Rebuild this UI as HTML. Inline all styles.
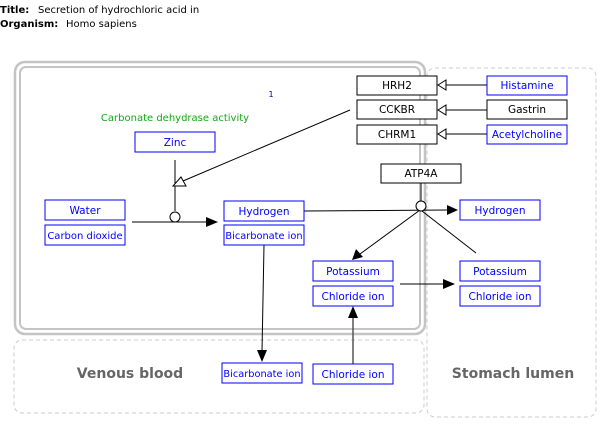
<!DOCTYPE html>
<html><head><meta charset="utf-8"><style>
html,body{margin:0;padding:0;background:#fff;}
svg{display:block;font-family:"DejaVu Sans","Liberation Sans",sans-serif;}
.b{fill:#fff;stroke:#00f;stroke-width:1;}
.k{fill:#fff;stroke:#000;stroke-width:1;}
.tb{fill:#00f;font-size:10.5px;text-anchor:middle;}
.tk{fill:#000;font-size:10.5px;text-anchor:middle;}
.l{stroke:#000;stroke-width:1;fill:none;}
</style></head><body>
<svg width="609" height="432" viewBox="0 0 609 432" xmlns="http://www.w3.org/2000/svg">
<text x="0" y="13" style="font-size:10px" font-weight="bold">Title:</text>
<text x="38" y="13" style="font-size:10px">Secretion of hydrochloric acid in</text>
<text x="0" y="27" style="font-size:10px" font-weight="bold">Organism:</text>
<text x="66" y="27" style="font-size:10px">Homo sapiens</text>

<rect x="14" y="340" width="410" height="73" rx="8" fill="none" stroke="#ccc" stroke-dasharray="4,3"/>
<rect x="427" y="68" width="169" height="349" rx="8" fill="none" stroke="#ccc" stroke-dasharray="4,3"/>
<rect x="15" y="62" width="410" height="272" rx="10" fill="none" stroke="#c4c4c4" stroke-width="2.5"/>
<rect x="20" y="67" width="400" height="262" rx="6" fill="none" stroke="#c4c4c4" stroke-width="2"/>

<text x="130" y="378" style="font-size:14px" font-weight="bold" fill="#666" text-anchor="middle">Venous blood</text>
<text x="513" y="378" style="font-size:14px" font-weight="bold" fill="#666" text-anchor="middle">Stomach lumen</text>
<text x="175" y="121" style="font-size:10px" fill="#1a1" text-anchor="middle">Carbonate dehydrase activity</text>
<text x="271" y="97" style="font-size:8px" fill="#00a" text-anchor="middle">1</text>

<line class="l" x1="487" y1="85" x2="446" y2="85"/>
<line class="l" x1="487" y1="110" x2="446" y2="110"/>
<line class="l" x1="487" y1="134" x2="446" y2="134"/>
<polygon points="438,85 446,80 446,90" fill="#fff" stroke="#000"/>
<polygon points="438,110 446,105 446,115" fill="#fff" stroke="#000"/>
<polygon points="438,134 446,129 446,139" fill="#fff" stroke="#000"/>

<line class="l" x1="350" y1="110" x2="183" y2="181"/>
<line class="l" x1="175" y1="160" x2="175" y2="211"/>
<polygon points="181,177 173,186 186,186" fill="#fff" stroke="#000"/>
<line class="l" x1="132" y1="222" x2="208" y2="222"/>
<polygon points="218,222 206,217 206,227" fill="#000"/>
<circle cx="175" cy="217" r="5" fill="#fff" stroke="#000"/>

<line class="l" x1="304" y1="211" x2="448" y2="210"/>
<polygon points="458,210 447,205 447,215" fill="#000"/>
<line x1="421" y1="183" x2="421" y2="201" stroke="#555" stroke-width="1.5"/>
<line class="l" x1="420" y1="210" x2="360" y2="254"/>
<polygon points="352,260 356,249 363,257" fill="#000"/>
<line class="l" x1="422" y1="211" x2="476" y2="253"/>
<circle cx="421" cy="206" r="5" fill="#fff" stroke="#000"/>

<line class="l" x1="400" y1="284" x2="445" y2="284"/>
<polygon points="455,284 443,279 443,289" fill="#000"/>
<line class="l" x1="264" y1="245" x2="262" y2="352"/>
<polygon points="262,362 257,350 267,350" fill="#000"/>
<line x1="353" y1="364" x2="353" y2="316" stroke="#555" stroke-width="1.5"/>
<polygon points="353,306 348,318 358,318" fill="#000"/>

<rect class="k" x="357" y="76" width="80" height="19"/><text class="tk" x="397" y="89">HRH2</text>
<rect class="k" x="357" y="100" width="80" height="19"/><text class="tk" x="397" y="113">CCKBR</text>
<rect class="k" x="357" y="125" width="80" height="19"/><text class="tk" x="397" y="138">CHRM1</text>
<rect class="b" x="487" y="76" width="80" height="19"/><text class="tb" x="527" y="89">Histamine</text>
<rect class="k" x="487" y="100" width="80" height="19"/><text class="tk" x="527" y="113">Gastrin</text>
<rect class="b" x="487" y="125" width="80" height="19"/><text class="tb" x="527" y="138">Acetylcholine</text>
<rect class="k" x="381" y="164" width="80" height="19"/><text class="tk" x="421" y="177">ATP4A</text>

<rect class="b" x="135" y="132" width="80" height="20"/><text class="tb" x="175" y="146">Zinc</text>
<rect class="b" x="45" y="200" width="80" height="20"/><text class="tb" x="85" y="214">Water</text>
<rect class="b" x="45" y="225" width="80" height="20"/><text class="tb" x="85" y="239" style="font-size:10px">Carbon dioxide</text>
<rect class="b" x="224" y="201" width="80" height="20"/><text class="tb" x="264" y="215">Hydrogen</text>
<rect class="b" x="224" y="225" width="80" height="20"/><text class="tb" x="264" y="239" style="font-size:9.8px">Bicarbonate ion</text>
<rect class="b" x="460" y="200" width="80" height="20"/><text class="tb" x="500" y="214">Hydrogen</text>
<rect class="b" x="313" y="261" width="80" height="20"/><text class="tb" x="353" y="275">Potassium</text>
<rect class="b" x="313" y="286" width="80" height="20"/><text class="tb" x="353" y="300">Chloride ion</text>
<rect class="b" x="460" y="261" width="80" height="20"/><text class="tb" x="500" y="275">Potassium</text>
<rect class="b" x="460" y="286" width="80" height="20"/><text class="tb" x="500" y="300">Chloride ion</text>
<rect class="b" x="222" y="363" width="80" height="20"/><text class="tb" x="262" y="377" style="font-size:9.8px">Bicarbonate ion</text>
<rect class="b" x="313" y="364" width="80" height="20"/><text class="tb" x="353" y="378">Chloride ion</text>
</svg>
</body></html>
